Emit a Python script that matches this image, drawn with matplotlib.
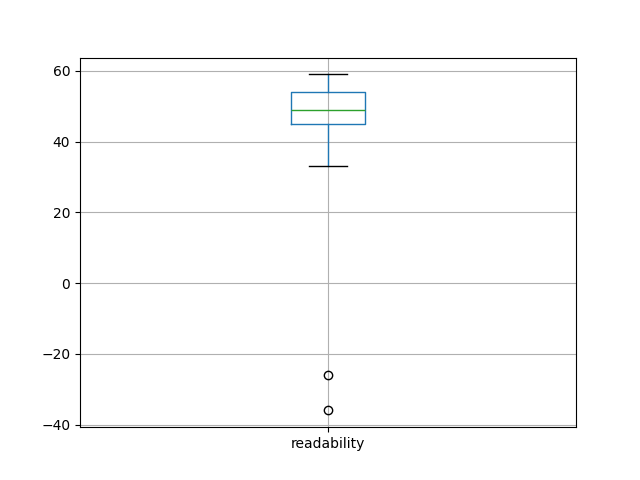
import pandas as pd
import matplotlib
matplotlib.use("Agg")
import matplotlib.pyplot as plt

# readability scores (sorted)
readability = [-36, -26, 33, 45, 46, 48, 49, 50, 52, 54, 56, 58, 59]

df = pd.DataFrame({"readability": readability})

fig = plt.figure(figsize=(6.4, 4.8), dpi=100)
ax = fig.add_subplot(111)
df.boxplot(column=["readability"], ax=ax)

plt.savefig("out.png")
